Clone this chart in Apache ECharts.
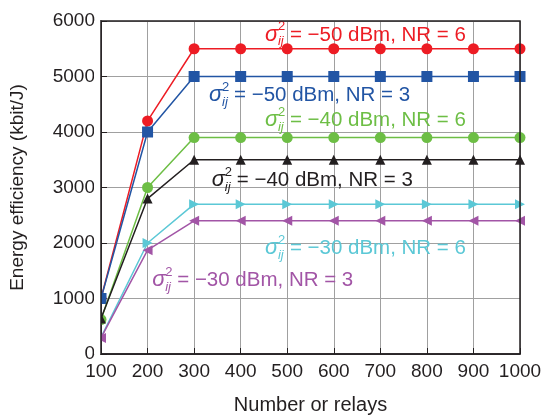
<!DOCTYPE html>
<html>
<head>
<meta charset="utf-8">
<script src="https://cdn.jsdelivr.net/npm/echarts@6/dist/echarts.min.js"></script>
<style>
  html, body { margin: 0; padding: 0; background: #fff; }
  #chart { width: 541px; height: 416px; }
</style>
</head>
<body>
<div id="chart"></div>
<script>
const relays = [100, 200, 300, 400, 500, 600, 700, 800, 900, 1000]

const ee50nr6 = [1000, 4200, 5500, 5500, 5500, 5500, 5500, 5500, 5500, 5500]
const ee50nr3 = [1000, 4000, 5000, 5000, 5000, 5000, 5000, 5000, 5000, 5000]
const ee40nr6 = [620, 3000, 3900, 3900, 3900, 3900, 3900, 3900, 3900, 3900]
const ee40nr3 = [640, 2800, 3500, 3500, 3500, 3500, 3500, 3500, 3500, 3500]
const ee30nr6 = [300, 2000, 2700, 2700, 2700, 2700, 2700, 2700, 2700, 2700]
const ee30nr3 = [290, 1870, 2400, 2400, 2400, 2400, 2400, 2400, 2400, 2400]

const seriesNames = ['−50 dBm, NR = 6', '−50 dBm, NR = 3', '−40 dBm, NR = 6', '−40 dBm, NR = 3', '−30 dBm, NR = 6', '−30 dBm, NR = 3']
// label anchor (left edge, vertical middle) in data units
const labelAt = [[452, 5750], [332, 4660], [452, 4210], [338, 3130], [452, 1910], [210, 1330]]

const colors = ['#ED1C24', '#2255A4', '#6DBE45', '#231F20', '#5BC8D6', '#A255A6']
const FONT = 'Liberation Sans, Arial, sans-serif'

const mk = (data, i, symbol, size, rot) => ({
  name: seriesNames[i],
  type: 'line',
  data: relays.map((x, k) => [x, data[k]]),
  symbol: symbol,
  symbolSize: size,
  symbolRotate: rot || 0,
  showSymbol: true,
  itemStyle: { color: colors[i] },
  lineStyle: { color: colors[i], width: 1.5 },
  z: 3 + i,
})

const option = {
  animation: false,
  grid: { left: 101, right: 21, top: 21, bottom: 62, outerBoundsMode: 'none' },
  xAxis: {
    type: 'value',
    min: 100,
    max: 1000,
    interval: 100,
    name: 'Number or relays',
    nameLocation: 'middle',
    nameGap: 41,
    nameTextStyle: { fontFamily: FONT, fontSize: 20, color: '#231F20' },
    axisLine: { lineStyle: { color: '#231F20', width: 1.5 } },
    axisTick: { inside: true, length: 6, lineStyle: { color: '#231F20' } },
    axisLabel: { fontFamily: FONT, fontSize: 19, color: '#231F20', margin: 8, formatter: v => String(v) },
    splitLine: { show: true, lineStyle: { color: '#A0A0A0', width: 1 } },
  },
  yAxis: {
    type: 'value',
    min: 0,
    max: 6000,
    interval: 1000,
    name: 'Energy efficiency (kbit/J)',
    nameLocation: 'middle',
    nameGap: 74,
    nameTextStyle: { fontFamily: FONT, fontSize: 19, color: '#231F20' },
    axisLine: { show: true, lineStyle: { color: '#231F20', width: 1.5 } },
    axisTick: { show: true, inside: true, length: 6, lineStyle: { color: '#231F20' } },
    axisLabel: { fontFamily: FONT, fontSize: 19, color: '#231F20', margin: 6, formatter: v => String(v) },
    splitLine: { show: true, lineStyle: { color: '#A0A0A0', width: 1 } },
  },
  series: [
    mk(ee50nr6, 0, 'circle', 11),
    mk(ee50nr3, 1, 'rect', 11),
    mk(ee40nr6, 2, 'circle', 11),
    mk(ee40nr3, 3, 'triangle', 10),
    mk(ee30nr6, 4, 'triangle', 10, -90),
    mk(ee30nr3, 5, 'triangle', 10, 90),
  ],
}

const chart = echarts.init(document.getElementById('chart'), null, { renderer: 'canvas' })
chart.setOption(option)

// markers at the left edge are cut by the frame, then the frame itself and series labels
const p0 = chart.convertToPixel('grid', [100, 6000])
const p1 = chart.convertToPixel('grid', [1000, 0])
const graphics = [{
  type: 'rect',
  shape: { x: p0[0] - 7, y: p0[1], width: 7, height: p1[1] - p0[1] },
  style: { fill: '#fff' },
  z: 15,
}, {
  type: 'rect',
  shape: { x: p0[0], y: p0[1], width: p1[0] - p0[0], height: p1[1] - p0[1] },
  style: { fill: 'none', stroke: '#231F20', lineWidth: 1.5 },
  z: 16,
}]
labelAt.forEach((a, i) => {
  const p = chart.convertToPixel('grid', a)
  const c = colors[i]
  graphics.push({
    type: 'group',
    x: p[0],
    y: p[1],
    z: 20,
    children: [
      { type: 'text', x: 0, y: 0, style: { text: 'σ', font: 'italic 22px ' + FONT, fill: c, textVerticalAlign: 'middle' } },
      { type: 'text', x: 13, y: -8, style: { text: '2', font: '13px ' + FONT, fill: c, textVerticalAlign: 'middle' } },
      { type: 'text', x: 13, y: 7, style: { text: 'ij', font: 'italic 13px ' + FONT, fill: c, textVerticalAlign: 'middle' } },
      { type: 'text', x: 25, y: 0, style: { text: '= ' + seriesNames[i], font: '20.5px ' + FONT, fill: c, textVerticalAlign: 'middle' } },
    ],
  })
})
chart.setOption({ graphic: graphics })
</script>
</body>
</html>
